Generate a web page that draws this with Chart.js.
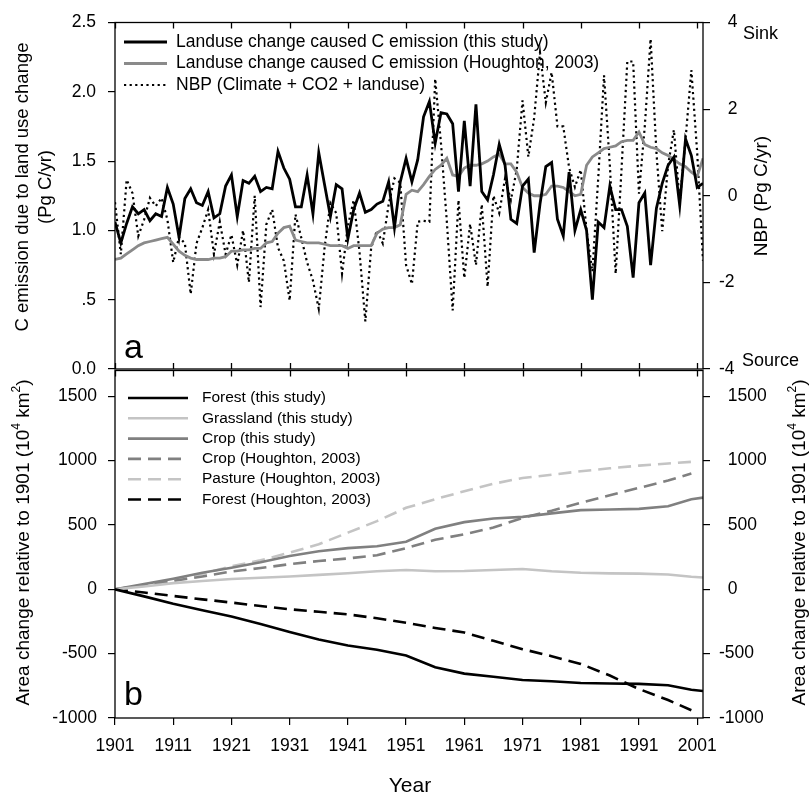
<!DOCTYPE html>
<html>
<head>
<meta charset="utf-8">
<script src="https://cdn.jsdelivr.net/npm/chart.js@4.4.0/dist/chart.umd.min.js"></script>
<style>
  body { margin: 0; background: #fff; }
  #wrap { position: relative; width: 809px; height: 796px; background: #fff; }
  canvas { position: absolute; left: 0; }
</style>
</head>
<body>
<div id="wrap">
  <canvas id="areaChart" width="809" height="447" style="top:349px"></canvas>
  <canvas id="emitChart" width="809" height="400" style="top:0px"></canvas>
</div>
<script>
// ---- panel a: yearly values 1901-2002 ----
const years = Array.from({ length: 102 }, (_, i) => 1901 + i);

const emitThisStudy = [
  1.06, 0.91, 1.05, 1.17, 1.12, 1.15, 1.07, 1.12, 1.10, 1.31,
  1.19, 0.95, 1.23, 1.30, 1.20, 1.18, 1.28, 1.09, 1.12, 1.32,
  1.40, 1.10, 1.36, 1.34, 1.39, 1.28, 1.31, 1.30, 1.57, 1.45,
  1.37, 1.17, 1.17, 1.40, 1.12, 1.56, 1.33, 1.10, 1.33, 1.30,
  0.94, 1.15, 1.27, 1.13, 1.15, 1.19, 1.21, 1.35, 1.02, 1.35,
  1.52, 1.35, 1.51, 1.82, 1.93, 1.63, 1.85, 1.84, 1.77, 1.28,
  1.79, 1.32, 1.91, 1.28, 1.22, 1.40, 1.62, 1.47, 1.08, 1.05,
  1.32, 1.37, 0.84, 1.19, 1.46, 1.49, 1.08, 0.96, 1.42, 1.00,
  1.15, 1.00, 0.50, 1.06, 1.02, 1.32, 1.15, 1.15, 1.03, 0.66,
  1.20, 1.27, 0.75, 1.16, 1.34, 1.47, 1.53, 1.18, 1.66, 1.54,
  1.31, 1.34
];

const emitHoughton = [
  0.79, 0.80, 0.83, 0.86, 0.89, 0.91, 0.92, 0.93, 0.94, 0.95,
  0.90, 0.85, 0.82, 0.80, 0.79, 0.79, 0.79, 0.80, 0.80, 0.81,
  0.85, 0.85, 0.86, 0.86, 0.87, 0.87, 0.91, 0.92, 0.98, 1.02,
  1.03, 0.93, 0.92, 0.91, 0.91, 0.91, 0.90, 0.89, 0.89, 0.89,
  0.87, 0.89, 0.89, 0.89, 0.89, 0.98, 1.01, 1.02, 1.02, 1.04,
  1.26, 1.29, 1.28, 1.33, 1.39, 1.44, 1.47, 1.52, 1.40, 1.39,
  1.45, 1.47, 1.47, 1.48, 1.50, 1.53, 1.55, 1.48, 1.48, 1.42,
  1.31, 1.27, 1.25, 1.25, 1.26, 1.32, 1.32, 1.31, 1.28, 1.25,
  1.26, 1.47, 1.53, 1.56, 1.59, 1.60, 1.61, 1.64, 1.65, 1.65,
  1.71, 1.62, 1.60, 1.59, 1.56, 1.54, 1.51, 1.48, 1.46, 1.42,
  1.39, 1.52
];

const nbp = [
  -0.15, -1.35, 0.37, 0.06, -0.93, -0.55, -0.05, -0.24, -0.05, -0.55,
  -1.54, -0.95, -1.10, -2.27, -1.10, -0.74, -0.32, -1.35, -0.60, -1.35,
  -0.90, -1.60, -0.80, -2.00, 0.00, -2.57, -0.66, -0.32, -1.20, -1.50,
  -2.42, -0.43, -0.97, -1.54, -1.96, -2.61, -1.20, -0.17, -0.40, -1.80,
  -0.70, -0.10, -1.30, -2.90, -1.20, -0.80, -1.10, -0.20, 0.40, 0.30,
  -1.60, -2.04, -0.60, -0.58, -0.60, 2.70, 1.20, -0.60, -2.65, -0.10,
  -1.90, -0.65, -1.60, -0.20, -2.10, 0.00, -0.40, 0.40, -0.10, 0.60,
  2.20, 0.90, 1.80, 3.30, 2.15, 2.85, 1.60, 1.60, 0.65, 0.20,
  0.60, -0.80, -1.75, 0.40, 2.78, 0.70, -1.80, 0.60, 3.10, 3.10,
  0.05, 1.60, 3.62, 1.00, -0.82, 0.70, 1.52, -0.15, 1.30, 2.90,
  1.00, -1.50
];

// ---- panel b: area change relative to 1901 (10^4 km2) ----
const areaYears = [1901, 1906, 1911, 1916, 1921, 1926, 1931, 1936, 1941, 1946, 1951,
                   1956, 1961, 1966, 1971, 1976, 1981, 1986, 1991, 1996, 2000, 2002];
const forestStudy     = [0, -55, -112, -162, -212, -270, -332, -390, -437, -470, -515,
                         -605, -655, -680, -705, -715, -728, -732, -735, -745, -780, -790];
const grassStudy      = [0, 22, 48, 65, 80, 90, 100, 112, 125, 140, 150,
                         140, 142, 150, 158, 140, 128, 124, 122, 115, 97, 92];
const cropStudy       = [0, 40, 82, 128, 168, 210, 258, 295, 320, 335, 370,
                         470, 522, 550, 563, 590, 615, 620, 625, 645, 700, 712];
const cropHoughton    = [0, 30, 65, 100, 138, 165, 195, 220, 240, 265, 320,
                         385, 428, 480, 555, 610, 672, 730, 788, 845, 900, null];
const pastureHoughton = [0, 30, 70, 120, 178, 225, 285, 350, 440, 530, 633,
                         700, 762, 820, 865, 890, 917, 940, 961, 978, 990, null];
const forestHoughton  = [0, -25, -52, -78, -103, -130, -155, -175, -195, -225, -260,
                         -300, -336, -400, -465, -520, -580, -670, -775, -860, -940, null];

// ---- tick values ----
const xTickYears = [1901, 1911, 1921, 1931, 1941, 1951, 1961, 1971, 1981, 1991, 2001];
const emitTicks = [0, 0.5, 1, 1.5, 2, 2.5];
const nbpTicks = [-4, -2, 0, 2, 4];
const areaTicks = [-1000, -500, 0, 500, 1000, 1500];

const fontFam = '"Liberation Sans", Arial, Helvetica, sans-serif';
Chart.defaults.font.family = fontFam;
Chart.defaults.color = '#000';

function pts(xs, ys) {
  return xs.map((x, i) => ({ x: x, y: ys[i] }));
}

// rotated (bottom-to-top) text, made of pieces so superscripts work
function vText(ctx, parts, cx, cy) {
  ctx.save();
  ctx.translate(cx, cy);
  ctx.rotate(-Math.PI / 2);
  ctx.textBaseline = 'middle';
  ctx.textAlign = 'left';
  let total = 0;
  parts.forEach(p => {
    ctx.font = p.size + 'px ' + fontFam;
    p.w = ctx.measureText(p.t).width;
    total += p.w;
  });
  let x = -total / 2;
  parts.forEach(p => {
    ctx.font = p.size + 'px ' + fontFam;
    ctx.fillText(p.t, x, p.dy || 0);
    x += p.w;
  });
  ctx.restore();
}

const deco = {
  id: 'deco',
  afterDraw(chart, args, o) {
    const ctx = chart.ctx;
    const a = chart.chartArea;
    const xs = chart.scales.x;
    ctx.save();
    ctx.fillStyle = '#000';
    ctx.strokeStyle = '#000';
    ctx.lineWidth = 1.3;
    ctx.strokeRect(a.left, a.top, a.right - a.left, a.bottom - a.top);

    // inward year ticks
    ctx.beginPath();
    xTickYears.forEach(yr => {
      const px = Math.round(xs.getPixelForValue(yr)) + 0.5;
      if (o.innerTop) { ctx.moveTo(px, a.top); ctx.lineTo(px, a.top + 6); }
      if (o.innerBottom) { ctx.moveTo(px, a.bottom); ctx.lineTo(px, a.bottom - 6); }
    });
    ctx.stroke();

    // legend inside the plot
    const lg = o.legend;
    ctx.textAlign = 'left';
    ctx.textBaseline = 'middle';
    chart.data.datasets.forEach((ds, i) => {
      const y = lg.y + i * lg.dy;
      ctx.save();
      ctx.strokeStyle = ds.borderColor;
      ctx.lineWidth = ds.borderWidth;
      ctx.setLineDash(ds.borderDash || []);
      ctx.beginPath();
      ctx.moveTo(lg.x0, y);
      ctx.lineTo(lg.x1, y);
      ctx.stroke();
      ctx.restore();
      ctx.font = lg.size + 'px ' + fontFam;
      ctx.fillText(ds.label, lg.tx, y);
    });

    // free texts
    o.texts.forEach(t => {
      if (t.parts) { vText(ctx, t.parts, t.x, t.y); return; }
      ctx.font = t.size + 'px ' + fontFam;
      ctx.textAlign = t.align || 'left';
      ctx.textBaseline = 'alphabetic';
      ctx.fillText(t.t, t.x, t.y);
    });
    ctx.restore();
  }
};

function yAxis(pos, min, max, tickVals, fmt, width, pad) {
  return {
    position: pos, min: min, max: max,
    afterBuildTicks: s => { s.ticks = tickVals.map(v => ({ value: v })); },
    ticks: { autoSkip: false, callback: fmt, padding: pad, font: { size: 17.5 } },
    grid: { drawOnChartArea: false, drawTicks: true, tickLength: 7, color: '#000', lineWidth: 1.2 },
    border: { display: false },
    afterFit: s => { s.width = width; }
  };
}

const leftFmt = v => (v === 0 ? '0.0' : v === 0.5 ? '.5' : v.toFixed(1));
const rightFmt = v => (v < 0 ? '' : '\u2002') + v;

new Chart(document.getElementById('emitChart'), {
  type: 'line',
  data: {
    datasets: [
      { label: 'Landuse change caused C emission (this study)', data: pts(years, emitThisStudy),
        borderColor: '#000', borderWidth: 2.8, yAxisID: 'yL' },
      { label: 'Landuse change caused C emission (Houghton, 2003)', data: pts(years, emitHoughton),
        borderColor: '#8a8a8a', borderWidth: 2.8, yAxisID: 'yL' },
      { label: 'NBP (Climate + CO2 + landuse)', data: pts(years, nbp),
        borderColor: '#000', borderWidth: 2.2, borderDash: [2.2, 3.4], yAxisID: 'yR' }
    ]
  },
  options: {
    responsive: false,
    animation: false,
    layout: { padding: { top: 20, bottom: 31, left: 0, right: 0 } },
    elements: { point: { radius: 0 }, line: { tension: 0 } },
    plugins: {
      legend: { display: false },
      tooltip: { enabled: false },
      deco: {
        innerTop: true, innerBottom: true,
        legend: { x0: 124, x1: 167, tx: 176, y: 42, dy: 21.5, size: 17.5 },
        texts: [
          { t: 'a', x: 124, y: 358, size: 34 },
          { t: 'Sink', x: 743, y: 39, size: 18 },
          { t: 'Source', x: 742, y: 366, size: 18 },
          { parts: [{ t: 'C emission due to land use change', size: 18.5 }], x: 23, y: 187 },
          { parts: [{ t: '(Pg C/yr)', size: 18.5 }], x: 46, y: 187 },
          { parts: [{ t: 'NBP (Pg C/yr)', size: 19 }], x: 762, y: 196 }
        ]
      }
    },
    scales: {
      x: { type: 'linear', min: 1901, max: 2002, display: false },
      yL: yAxis('left', 0, 2.5, emitTicks, leftFmt, 115, 12),
      yR: yAxis('right', -4, 4, nbpTicks, rightFmt, 106, 9)
    }
  },
  plugins: [deco]
});

const areaTitle = [
  { t: 'Area change relative to 1901 (10', size: 19 },
  { t: '4', size: 12, dy: -7 },
  { t: ' km', size: 19 },
  { t: '2', size: 12, dy: -7 },
  { t: ')', size: 19 }
];

new Chart(document.getElementById('areaChart'), {
  type: 'line',
  data: {
    datasets: [
      { label: 'Forest (this study)', data: pts(areaYears, forestStudy),
        borderColor: '#000', borderWidth: 2.6, yAxisID: 'yL' },
      { label: 'Grassland (this study)', data: pts(areaYears, grassStudy),
        borderColor: '#c4c4c4', borderWidth: 2.6, yAxisID: 'yL' },
      { label: 'Crop (this study)', data: pts(areaYears, cropStudy),
        borderColor: '#808080', borderWidth: 2.6, yAxisID: 'yL' },
      { label: 'Crop (Houghton, 2003)', data: pts(areaYears, cropHoughton),
        borderColor: '#808080', borderWidth: 2.6, borderDash: [13, 7], yAxisID: 'yL' },
      { label: 'Pasture (Houghton, 2003)', data: pts(areaYears, pastureHoughton),
        borderColor: '#c4c4c4', borderWidth: 2.6, borderDash: [13, 7], yAxisID: 'yL' },
      { label: 'Forest (Houghton, 2003)', data: pts(areaYears, forestHoughton),
        borderColor: '#000', borderWidth: 2.6, borderDash: [13, 7], yAxisID: 'yL' }
    ]
  },
  options: {
    responsive: false,
    animation: false,
    layout: { padding: { top: 20, bottom: 0, left: 0, right: 0 } },
    elements: { point: { radius: 0 }, line: { tension: 0 } },
    plugins: {
      legend: { display: false },
      tooltip: { enabled: false },
      deco: {
        innerTop: true, innerBottom: false,
        legend: { x0: 128, x1: 188, tx: 202, y: 49, dy: 20.3, size: 15.5 },
        texts: [
          { t: 'b', x: 124, y: 356, size: 34 },
          { t: 'Year', x: 410, y: 443, size: 21, align: 'center' },
          { parts: areaTitle, x: 24, y: 193.5 },
          { parts: areaTitle, x: 800, y: 193.5 }
        ]
      }
    },
    scales: {
      x: {
        type: 'linear', min: 1901, max: 2002,
        afterBuildTicks: s => { s.ticks = xTickYears.map(v => ({ value: v })); },
        ticks: { autoSkip: false, maxRotation: 0, padding: 11, font: { size: 17.5 },
                 callback: v => String(v) },
        grid: { drawOnChartArea: false, drawTicks: true, tickLength: 7, color: '#000', lineWidth: 1.2 },
        border: { display: false },
        afterFit: s => { s.height = 78; }
      },
      yL: yAxis('left', -1000, 1700, areaTicks, v => String(v), 115, 11),
      yR: yAxis('right', -1000, 1700, areaTicks, rightFmt, 106, 9)
    }
  },
  plugins: [deco]
});
</script>
</body>
</html>
